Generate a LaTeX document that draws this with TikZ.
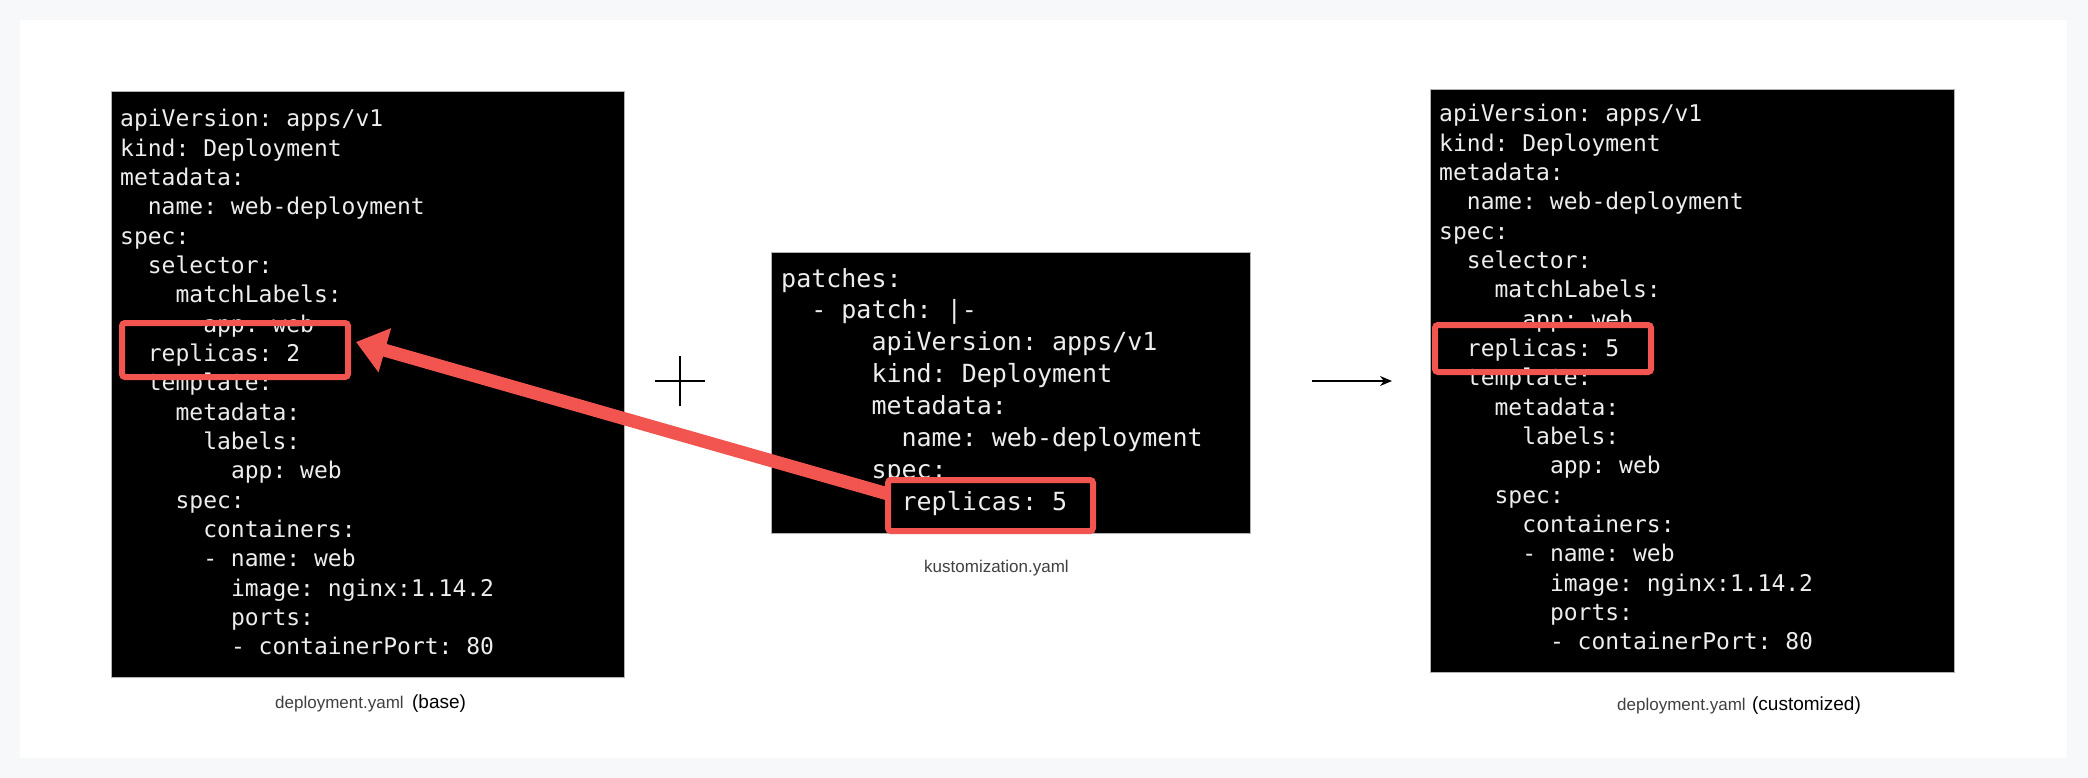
\documentclass[tikz,border=0pt]{standalone}
\usepackage{fontspec}
\setmonofont{DejaVu Sans Mono}
\setmainfont{Liberation Sans}
\newfontfamily\capfont{Liberation Sans}
\usetikzlibrary{arrows.meta}
\definecolor{bgout}{HTML}{F7F8FA}
\definecolor{redhl}{HTML}{F2554F}
\definecolor{codefg}{HTML}{EDEDED}
\tikzset{
  codebox/.style={fill=black,draw=gray!60,line width=0.8pt},
  codeL/.style={anchor=base west,inner sep=0pt,text=codefg,font=\ttfamily\fontsize{23}{29}\selectfont},
  codeM/.style={anchor=base west,inner sep=0pt,text=codefg,font=\ttfamily\fontsize{25}{32}\selectfont},
  hlbox/.style={draw=redhl,line width=6pt,rounded corners=3pt},
  capA/.style={anchor=base west,inner sep=0pt,text=black!75,font=\capfont\fontsize{17}{20}\selectfont},
  capB/.style={anchor=base west,inner sep=0pt,text=black,font=\capfont\fontsize{19}{22}\selectfont},
}
\begin{document}
\begin{tikzpicture}[x=1pt,y=-1pt]
\fill[bgout] (0,0) rectangle (2088,778);
\useasboundingbox (0,0) rectangle (2088,778);
\fill[white] (20,20) rectangle (2067,758);
% boxes
\draw[codebox] (111,91) rectangle (624,677);
\draw[codebox] (771,252) rectangle (1250,533);
\draw[codebox] (1430,89) rectangle (1954,672);
% left code
\foreach \n/\t [count=\i from 0] in {0/{apiVersion: apps/v1},0/{kind: Deployment},0/{metadata:},2/{name: web-deployment},0/{spec:},2/{selector:},4/{matchLabels:},6/{app: web},2/{replicas: 2},2/{template:},4/{metadata:},6/{labels:},8/{app: web},4/{spec:},6/{containers:},6/{- name: web},8/{image: nginx:1.14.2},8/{ports:},8/{- containerPort: 80}}
  \node[codeL] (l\i) at (120+\n*13.85,127+\i*29.33) {\t};
\foreach \n/\t [count=\i from 0] in {0/{apiVersion: apps/v1},0/{kind: Deployment},0/{metadata:},2/{name: web-deployment},0/{spec:},2/{selector:},4/{matchLabels:},6/{app: web},2/{replicas: 5},2/{template:},4/{metadata:},6/{labels:},8/{app: web},4/{spec:},6/{containers:},6/{- name: web},8/{image: nginx:1.14.2},8/{ports:},8/{- containerPort: 80}}
  \node[codeL] (r\i) at (1439+\n*13.85,122+\i*29.33) {\t};
\foreach \n/\t [count=\i from 0] in {0/{patches:},2/{- patch: |-},6/{apiVersion: apps/v1},6/{kind: Deployment},6/{metadata:},8/{name: web-deployment},6/{spec:},8/{replicas: 5}}
  \node[codeM] (m\i) at (781+\n*15.05,287+\i*31.9) {\t};
% highlight boxes
\draw[hlbox] (122,323) rectangle (348,377);
\draw[hlbox] (888,480) rectangle (1093,531);
\draw[hlbox] (1435,325) rectangle (1651,372);
% red arrow
\coordinate (as) at (888,494);
\coordinate (at) at (356,342);
\draw[redhl,line width=13pt,-{Triangle[length=30pt,width=44pt]}] (as) -- (at);
% plus and arrow
\coordinate (pc) at (680,381);
\draw[black,line width=1.3pt] ([xshift=-25pt]pc) -- ([xshift=25pt]pc) ([yshift=-25pt]pc) -- ([yshift=25pt]pc);
\coordinate (ra) at (1312,381);
\coordinate (rb) at (1392,381);
\draw[black,line width=1.3pt,-{Stealth[length=12pt,width=10pt]}] (ra) -- (rb);
% captions
\node[capA] (c1) at (275,708) {deployment.yaml};
\node[capB,anchor=base west] (c1b) at ([xshift=8pt]c1.base east) {(base)};
\node[capA] (c2) at (924,572) {kustomization.yaml};
\node[capA] (c3) at (1617,710) {deployment.yaml};
\node[capB,anchor=base west] (c3b) at ([xshift=6pt]c3.base east) {(customized)};
\end{tikzpicture}
\end{document}
